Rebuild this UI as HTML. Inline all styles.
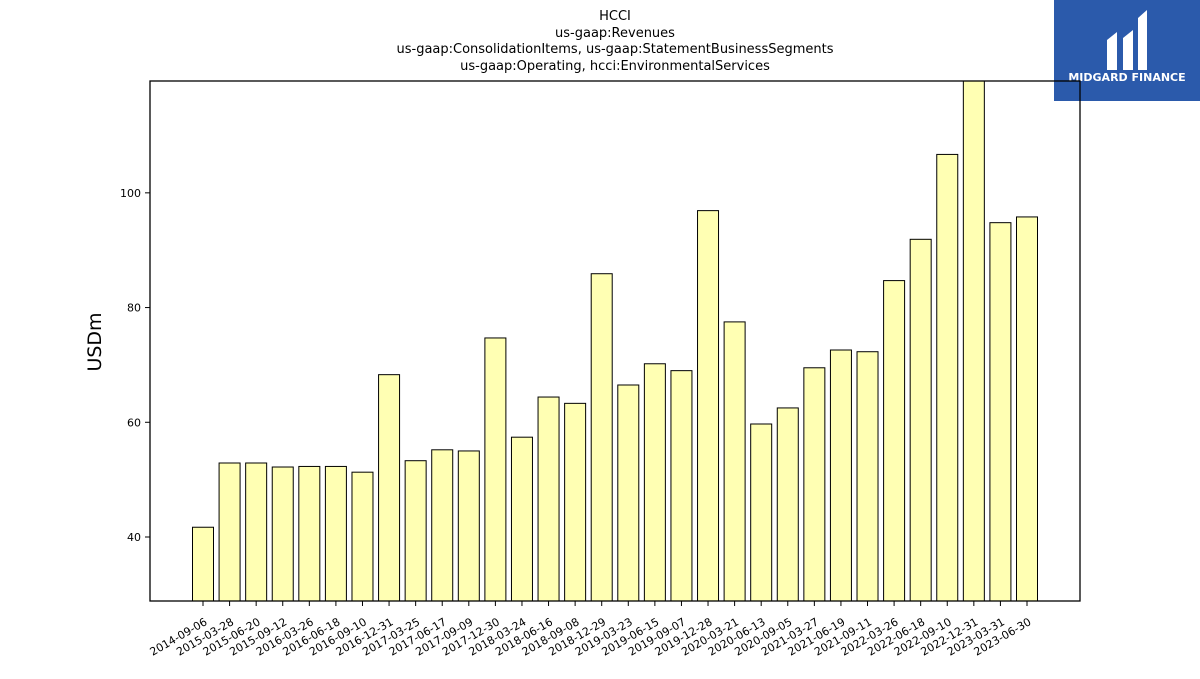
<!DOCTYPE html>
<html><head><meta charset="utf-8"><style>
body{margin:0;background:#fff;width:1200px;height:675px;overflow:hidden;font-family:"DejaVu Sans","Liberation Sans",sans-serif}
</style></head><body>
<svg width="1200" height="675" id="chart" font-family="DejaVu Sans, Liberation Sans, sans-serif">
<g font-size="13" text-anchor="middle" fill="#000">
<text x="615" y="20">HCCI</text>
<text x="615" y="37">us-gaap:Revenues</text>
<text x="615" y="53">us-gaap:ConsolidationItems, us-gaap:StatementBusinessSegments</text>
<text x="615" y="70">us-gaap:Operating, hcci:EnvironmentalServices</text>
</g>
<g>
<rect x="1054" y="0" width="146" height="101" fill="#2b5aab"/>
<path d="M1107 70 V40 L1117 32 V70 Z M1123 70 V38 L1133 30 V70 Z M1138 70 V18 L1147 10 V70 Z" fill="#fff"/>
<text x="1127" y="81" font-size="11" font-weight="bold" fill="#fff" text-anchor="middle">MIDGARD FINANCE</text>
</g>
<text transform="translate(101,342) rotate(-90)" font-size="19" text-anchor="middle">USDm</text>
<g id="bars"></g>
<g id="axes"></g>
</svg>
<script>
const categories=["2014-09-06","2015-03-28","2015-06-20","2015-09-12","2016-03-26","2016-06-18","2016-09-10","2016-12-31","2017-03-25","2017-06-17","2017-09-09","2017-12-30","2018-03-24","2018-06-16","2018-09-08","2018-12-29","2019-03-23","2019-06-15","2019-09-07","2019-12-28","2020-03-21","2020-06-13","2020-09-05","2021-03-27","2021-06-19","2021-09-11","2022-03-26","2022-06-18","2022-09-10","2022-12-31","2023-03-31","2023-06-30"];
const revenues=[41.7,52.9,52.9,52.2,52.3,52.3,51.3,68.3,53.3,55.2,55.0,74.7,57.4,64.4,63.3,85.9,66.5,70.2,69.0,96.9,77.5,59.7,62.5,69.5,72.6,72.3,84.7,91.9,106.7,121.0,94.8,95.8];
const yTicks=[40,60,80,100];
const L=150,R=1080,T=81,B=601,yMin=28.84,yMax=119.5;
const ns="http://www.w3.org/2000/svg";
function y(v){return B-(v-yMin)/(yMax-yMin)*(B-T);}
function x(i){return 203+i*(1027-203)/(categories.length-1);}
function mk(t,a,p){const e=document.createElementNS(ns,t);for(const k in a)e.setAttribute(k,a[k]);p.appendChild(e);return e;}
const bars=document.getElementById('bars'),axes=document.getElementById('axes');
mk('clipPath',{id:'clip'},bars).appendChild(document.createElementNS(ns,'rect'));
const cr=bars.querySelector('clipPath rect');cr.setAttribute('x',L);cr.setAttribute('y',T);cr.setAttribute('width',R-L);cr.setAttribute('height',B-T);
revenues.forEach((v,i)=>{
 const top=Math.max(y(v),T-2);
 const r=mk('rect',{x:x(i)-10.5,y:top,width:21,height:B-top,fill:'#ffffb3',stroke:'#000','stroke-width':1,'clip-path':'url(#clip)'},bars);
 
 
});
const fr=mk('rect',{x:L,y:T,width:R-L,height:B-T,fill:'none',stroke:'#000','stroke-width':1.3},axes);


yTicks.forEach(v=>{
 mk('line',{x1:L-5,x2:L,y1:y(v),y2:y(v),stroke:'#000'},axes);
 const t=mk('text',{x:L-9,y:y(v)+4,'font-size':11,'text-anchor':'end'},axes);t.textContent=v;
 
 
});
categories.forEach((c,i)=>{
 mk('line',{x1:x(i),x2:x(i),y1:B,y2:B+5,stroke:'#000'},axes);
 const t=mk('text',{transform:`translate(${x(i)+5},${B+23}) rotate(-30)`,'font-size':11,'text-anchor':'end'},axes);t.textContent=c;
 
 
});
</script>
</body></html>
